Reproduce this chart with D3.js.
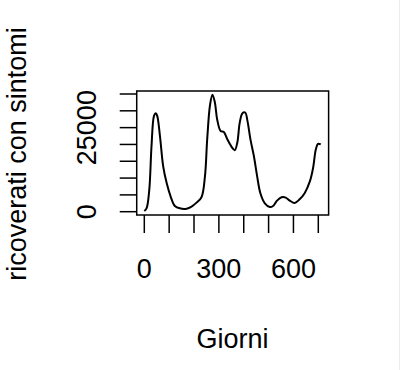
<!DOCTYPE html>
<html><head><meta charset="utf-8">
<script src="https://cdn.jsdelivr.net/npm/d3@7"></script>
<style>body{margin:0;background:#fff}svg{display:block}</style>
</head><body>
<svg id="c" width="400" height="370"></svg>
<script>
const days = [0,9,20,29,39,46,52,63,76,90,106,123,143,170,190,210,230,244,253,264,274,284,293,307,320,333,351,364,374,384,395,406,415,427,441,454,467,485,505,518,534,552,569,585,605,625,645,666,679,690,699,710];
const ricoverati = [200,1000,6500,19500,28500,29300,28500,22500,13500,8500,4500,1700,1000,900,1500,2700,4300,10500,21500,31500,34800,32500,27500,24000,23700,21700,19300,18300,20500,26500,29300,29500,27000,21500,16500,10500,5500,2500,1400,1700,3300,4300,4200,3300,2600,3700,5500,9000,13000,18500,20200,20000];
const xTicks = [0,100,200,300,400,500,600,700];
const xLabels = [0,300,600];
const yTicks = [0,5000,10000,15000,20000,25000,30000,35000];
const yLabels = [0,25000];

const svg = d3.select("#c");
const font = "'Liberation Sans', Arial, Helvetica, sans-serif";
const fs = 27;
const x = d3.scaleLinear().domain([0,700]).range([144.3,318.3]);
const y = d3.scaleLinear().domain([0,35000]).range([211.7,94]);
const bx0 = x(-30.5), bx1 = x(741.5), by0 = 91, by1 = 215;

svg.append("line").attr("x1",399.5).attr("x2",399.5).attr("y1",0).attr("y2",370).attr("stroke","#ececec");

svg.append("rect").attr("x",bx0).attr("y",by0).attr("width",bx1-bx0).attr("height",by1-by0)
  .attr("fill","none").attr("stroke","#000").attr("stroke-width",1.5);

const line = d3.line().x((d,i)=>x(days[i])).y(d=>y(d)).curve(d3.curveCatmullRom.alpha(0.5));
svg.append("path").datum(ricoverati).attr("d",line).attr("fill","none").attr("stroke","#000").attr("stroke-width",2);

// x axis
svg.selectAll(".xt").data(xTicks).join("line")
  .attr("x1",d=>x(d)).attr("x2",d=>x(d)).attr("y1",by1).attr("y2",by1+18)
  .attr("stroke","#000").attr("stroke-width",1.5);
svg.selectAll(".xl").data(xLabels).join("text")
  .attr("x",d=>x(d)).attr("y",277.5).attr("text-anchor","middle")
  .attr("font-family",font).attr("font-size",fs).text(d=>d);

// y axis
svg.selectAll(".yt").data(yTicks).join("line")
  .attr("x1",bx0-17).attr("x2",bx0).attr("y1",d=>y(d)).attr("y2",d=>y(d))
  .attr("stroke","#000").attr("stroke-width",1.5);
svg.selectAll(".yl").data(yLabels).join("text")
  .attr("transform",d=>`translate(95.5,${y(d)}) rotate(-90)`).attr("text-anchor","middle")
  .attr("font-family",font).attr("font-size",fs).text(d=>d);

svg.append("text").attr("x",232.5).attr("y",347.5).attr("text-anchor","middle")
  .attr("font-family",font).attr("font-size",fs).text("Giorni");
svg.append("text").attr("transform","translate(25.5,154) rotate(-90)").attr("text-anchor","middle")
  .attr("font-family",font).attr("font-size",fs).text("ricoverati con sintomi");
</script>
</body></html>
